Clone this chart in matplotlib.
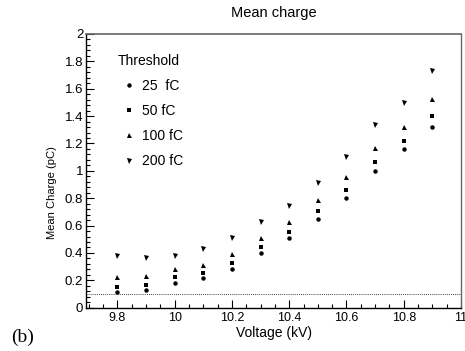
import numpy as np
import matplotlib.pyplot as plt
from matplotlib.ticker import MultipleLocator

plt.rcParams['font.family'] = ['Liberation Sans', 'DejaVu Sans']

# 数据
voltage = [9.8, 9.9, 10.0, 10.1, 10.2, 10.3, 10.4, 10.5, 10.6, 10.7, 10.8, 10.9]
q25 = [0.115, 0.129, 0.183, 0.217, 0.285, 0.400, 0.507, 0.648, 0.804, 1.001, 1.160, 1.323]
q50 = [0.151, 0.166, 0.222, 0.251, 0.329, 0.445, 0.556, 0.707, 0.858, 1.067, 1.221, 1.404]
q100 = [0.222, 0.232, 0.280, 0.315, 0.395, 0.510, 0.624, 0.787, 0.958, 1.170, 1.323, 1.528]
q200 = [0.378, 0.363, 0.380, 0.429, 0.507, 0.627, 0.746, 0.914, 1.104, 1.338, 1.499, 1.730]
threshold_line = 0.1
xticks = [9.8, 10, 10.2, 10.4, 10.6, 10.8, 11]
xticklabels = ['9.8', '10', '10.2', '10.4', '10.6', '10.8', '11']
yticklabels = ['0', '0.2', '0.4', '0.6', '0.8', '1', '1.2', '1.4', '1.6', '1.8', '2']

W, H = 465, 351
fig = plt.figure(figsize=(W / 100, H / 100), dpi=100)
ax = fig.add_axes([86 / W, 1 - 307.7 / H, (461 - 86) / W, (307.7 - 34) / H])

ax.plot(voltage, q25, 'o', color='black', ms=3.2, mew=0, label='25  fC')
ax.plot(voltage, q50, 's', color='black', ms=3.4, mew=0, label='50 fC')
ax.plot(voltage, q100, '^', color='black', ms=3.6, mew=0, label='100 fC')
ax.plot(voltage, q200, 'v', color='black', ms=3.6, mew=0, label='200 fC')
ax.axhline(threshold_line, color='black', lw=0.6, ls=(0, (1, 1.5)))

ax.set_xlim(9.69, 11.0)
ax.set_ylim(0, 2)
ax.xaxis.set_minor_locator(MultipleLocator(0.05))
ax.yaxis.set_minor_locator(MultipleLocator(0.04))
ax.set_xticks(xticks)
ax.set_xticklabels(xticklabels)
ax.set_yticks(np.round(np.arange(0, 2.01, 0.2), 1))
ax.set_yticklabels(yticklabels)
ax.tick_params(which='both', direction='in', top=False, right=False, pad=2)
ax.tick_params(axis='x', labelsize=9, pad=3)
ax.tick_params(axis='y', labelsize=9.5)
ax.tick_params(which='major', length=6, width=0.8)
ax.tick_params(which='minor', length=3, width=0.8)

ax.spines['top'].set_color('#666666')
ax.spines['right'].set_color('#666666')
ax.spines['top'].set_linewidth(1.2)
for s in ['right', 'left', 'bottom']:
    ax.spines[s].set_linewidth(1.0)

fig.text(273.5 / W, 1 - 333 / H, 'Voltage (kV)', ha='center', va='center', fontsize=10)
fig.text(51.7 / W, 1 - 193 / H, 'Mean Charge (pC)', ha='center', va='center',
         fontsize=8, rotation=90)
fig.text(273.5 / W, 1 - 12.5 / H, 'Mean charge', ha='center', va='center', fontsize=10.5)

leg = ax.legend(title='Threshold', loc='upper left', bbox_to_anchor=(118 / W, 1 - 54 / H),
                bbox_transform=fig.transFigure, borderpad=0, borderaxespad=0,
                frameon=False, fontsize=10, title_fontsize=10, handlelength=1.6,
                handletextpad=0.15, labelspacing=0.8, markerscale=1)
leg._legend_box.align = 'left'

fig.text(11 / W, 1 - 337 / H, '(b)', ha='left', va='center', fontsize=14,
         family='Liberation Serif')

fig.savefig('out.png', dpi=100)
